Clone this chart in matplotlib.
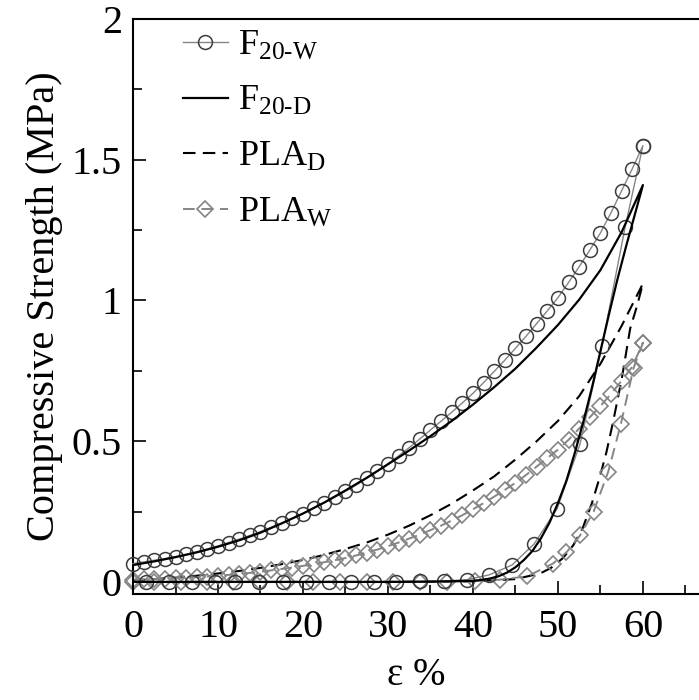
import matplotlib
matplotlib.use("Agg")
import matplotlib.pyplot as plt
from matplotlib.ticker import MultipleLocator, FormatStrFormatter

plt.rcParams['font.family'] = ['Liberation Serif', 'DejaVu Serif']
plt.rcParams['mathtext.fontset'] = 'custom'
plt.rcParams['mathtext.rm'] = 'Liberation Serif'
plt.rcParams['mathtext.it'] = 'Liberation Serif:italic'

# F20-W, loading (dense circles)
f20w_load_x = [0, 1.25, 2.5, 3.75, 5, 6.25, 7.5, 8.75, 10, 11.25, 12.5, 13.75, 15, 16.25,
               17.5, 18.75, 20, 21.25, 22.5, 23.75, 25, 26.25, 27.5, 28.75, 30, 31.25,
               32.5, 33.75, 35, 36.25, 37.5, 38.75, 40, 41.25, 42.5, 43.75, 45, 46.25,
               47.5, 48.75, 50, 51.25, 52.5, 53.75, 55, 56.25, 57.5, 58.75, 60]
f20w_load_y = [0.065, 0.071, 0.077, 0.083, 0.090, 0.098, 0.107, 0.117, 0.128, 0.140, 0.152,
               0.165, 0.179, 0.194, 0.209, 0.226, 0.243, 0.262, 0.281, 0.301, 0.322, 0.344,
               0.368, 0.393, 0.420, 0.448, 0.477, 0.508, 0.540, 0.571, 0.603, 0.636, 0.670,
               0.708, 0.748, 0.788, 0.830, 0.873, 0.918, 0.963, 1.010, 1.064, 1.120, 1.179,
               1.240, 1.312, 1.390, 1.468, 1.550]
# F20-W, unloading (sparse circles)
f20w_unl_x = [60, 57.9, 55.2, 52.6, 49.9, 47.2, 44.6, 41.9, 39.3, 36.6, 33.8, 31.0, 28.4,
              25.7, 23.1, 20.4, 17.7, 14.8, 12.0, 9.6, 6.9, 4.2, 1.5]
f20w_unl_y = [1.550, 1.260, 0.840, 0.490, 0.260, 0.135, 0.060, 0.025, 0.008, 0.003, 0.002,
              0.001, 0.001, 0, 0, 0, 0, 0, 0, 0, 0, 0, 0]

# F20-D (solid black)
f20d_load_x = [0, 2.5, 5, 7.5, 10, 12.5, 15, 17.5, 20, 22.5, 25, 27.5, 30, 32.5, 35, 37.5,
               40, 42.5, 45, 47.5, 50, 52.5, 55, 57.5, 60]
f20d_load_y = [0.060, 0.073, 0.088, 0.105, 0.125, 0.148, 0.175, 0.208, 0.243, 0.282, 0.325,
               0.370, 0.418, 0.467, 0.518, 0.572, 0.630, 0.692, 0.758, 0.833, 0.913, 1.003,
               1.108, 1.243, 1.410]
f20d_unl_x = [60, 59, 58, 57, 56, 55, 54, 53, 52, 51, 50, 49, 48, 47, 46, 45, 44, 43, 42,
              41, 40, 35, 30, 20, 10, 0]
f20d_unl_y = [1.410, 1.300, 1.190, 1.075, 0.950, 0.820, 0.690, 0.570, 0.460, 0.360, 0.280,
              0.210, 0.155, 0.110, 0.078, 0.052, 0.033, 0.020, 0.012, 0.007, 0.004, 0.001,
              0, 0, 0, 0]

# PLA_D (dashed black)
plad_load_x = [0, 2.5, 5, 7.5, 10, 12.5, 15, 17.5, 20, 22.5, 25, 27.5, 30, 32.5, 35, 37.5,
               40, 42.5, 45, 47.5, 50, 52.5, 55, 57.5, 60]
plad_load_y = [0.005, 0.010, 0.015, 0.022, 0.030, 0.039, 0.050, 0.063, 0.078, 0.096, 0.117,
               0.140, 0.168, 0.200, 0.237, 0.278, 0.325, 0.375, 0.435, 0.500, 0.572, 0.660,
               0.775, 0.910, 1.060]
plad_unl_x = [60, 59.3, 58.5, 57.5, 56.5, 55.7, 54.9, 54.0, 52.9, 51.8, 50.6, 49.2, 47.9,
              45, 40, 30, 20, 10, 0]
plad_unl_y = [1.060, 0.980, 0.900, 0.720, 0.570, 0.460, 0.370, 0.280, 0.190, 0.130, 0.085,
              0.050, 0.030, 0.010, 0.002, 0, 0, 0, 0]

# PLA_W (grey dashed, diamonds)
plaw_load_x = f20w_load_x
plaw_load_y = [0.008, 0.009, 0.010, 0.012, 0.013, 0.015, 0.017, 0.019, 0.022, 0.025, 0.028,
               0.032, 0.036, 0.041, 0.046, 0.051, 0.057, 0.063, 0.070, 0.077, 0.085, 0.094,
               0.104, 0.115, 0.127, 0.140, 0.154, 0.168, 0.184, 0.200, 0.218, 0.237, 0.258,
               0.280, 0.303, 0.327, 0.352, 0.380, 0.410, 0.440, 0.470, 0.505, 0.545, 0.585,
               0.625, 0.668, 0.715, 0.765, 0.850]
plaw_unl_x = [60, 58.9, 57.4, 55.9, 54.2, 52.6, 51.0, 49.4, 46.4, 43.2, 40.2, 36.9, 33.8,
              30.6, 27.5, 24.4, 21.2, 18.1, 15.0, 11.8, 8.7, 5.6, 2.5, 0]
plaw_unl_y = [0.850, 0.760, 0.560, 0.390, 0.250, 0.165, 0.105, 0.065, 0.020, 0.008, 0.003,
              0.001, 0, 0, 0, 0, 0, 0, 0, 0, 0, 0, 0, 0]

fig = plt.figure(figsize=(6.99, 7.0), dpi=100)
ax = fig.add_axes([0.1903, 0.1514, 0.8097, 0.8214])

grey = '#858585'
dash = (0, (6, 3.5))

ax.plot(f20w_load_x + f20w_unl_x, f20w_load_y + f20w_unl_y, color=grey, lw=1.0,
        marker='o', ms=10, mfc='none', mec='#3c3c3c', mew=1.1, clip_on=False,
        label=r'F$_{\mathrm{20\text{-}W}}$', zorder=3)
ax.plot(f20d_load_x + f20d_unl_x, f20d_load_y + f20d_unl_y, color='black', lw=1.6,
        label=r'F$_{\mathrm{20\text{-}D}}$', zorder=4)
ax.plot(plad_load_x + plad_unl_x, plad_load_y + plad_unl_y, color='black', lw=1.5,
        linestyle=dash, label=r'PLA$_{\mathrm{D}}$', zorder=2)
ax.plot(plaw_load_x + plaw_unl_x, plaw_load_y + plaw_unl_y, color=grey, lw=1.4,
        linestyle=dash, marker='D', ms=8, mfc='none', mec=grey, mew=1.2, clip_on=False,
        label=r'PLA$_{\mathrm{W}}$', zorder=2)

ax.set_xlim(0, 66.6)
ax.set_ylim(-0.043, 2.0)
ax.xaxis.set_major_locator(MultipleLocator(10))
ax.xaxis.set_minor_locator(MultipleLocator(5))
ax.yaxis.set_major_locator(MultipleLocator(0.5))
ax.yaxis.set_minor_locator(MultipleLocator(0.25))
ax.yaxis.set_major_formatter(FormatStrFormatter('%g'))

ax.tick_params(which='both', direction='in', top=False, right=False, width=1.2,
               labelsize=29)
ax.tick_params(which='major', length=9.5)
ax.tick_params(which='minor', length=6.5)
ax.tick_params(axis='x', pad=11)
ax.tick_params(axis='y', pad=8)
for side in ['left', 'bottom', 'top']:
    ax.spines[side].set_linewidth(1.5)
ax.spines['right'].set_visible(False)

ax.set_xlabel('ε %', fontsize=28, labelpad=8)
ax.set_ylabel('Compressive Strength (MPa)', fontsize=29, labelpad=6)

ax.legend(loc='upper left', bbox_to_anchor=(0.088, 0.982), frameon=False, fontsize=26,
          handlelength=1.25, handletextpad=0.28, labelspacing=0.62, borderpad=0,
          borderaxespad=0)

fig.savefig('out.png', dpi=100)
